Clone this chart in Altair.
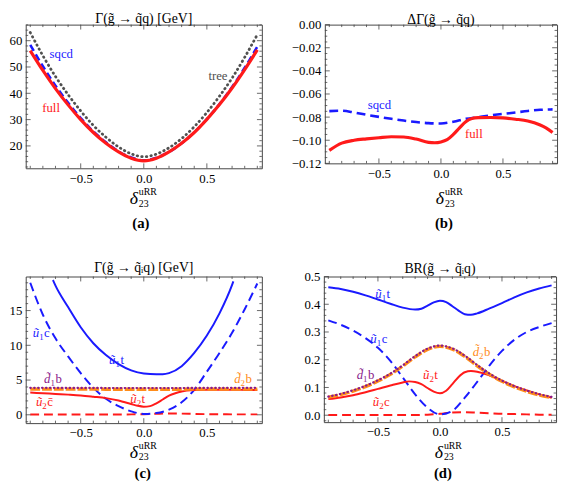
import altair as alt
import pandas as pd

FONT = "Liberation Serif, DejaVu Serif, serif"
BLUE = "#1a1aff"
RED = "#ff1a1a"
GRAY = "#505050"
PURPLE = "#8a1a8a"
ORANGE = "#ff8c1a"
FRAME = "#444444"

XDOM = [-0.936, 0.936]
X = [-0.9, -0.8, -0.7, -0.6, -0.5, -0.4, -0.3, -0.2, -0.1, 0.0,
     0.1, 0.2, 0.3, 0.4, 0.5, 0.6, 0.7, 0.8, 0.9]

# tick positions (major ones carry labels)
X_MAJOR = [-0.5, 0.0, 0.5]
X_MINOR = [-0.9, -0.8, -0.7, -0.6, -0.4, -0.3, -0.2, -0.1, 0.1, 0.2, 0.3, 0.4, 0.6, 0.7, 0.8, 0.9]
A_MAJOR = [20, 30, 40, 50, 60]
A_MINOR = [12, 14, 16, 18, 22, 24, 26, 28, 32, 34, 36, 38, 42, 44, 46, 48, 52, 54, 56, 58, 62, 64, 66]
B_MAJOR = [0.0, -0.02, -0.04, -0.06, -0.08, -0.10, -0.12]
B_MINOR = [-0.005, -0.01, -0.015, -0.025, -0.03, -0.035, -0.045, -0.05, -0.055, -0.065, -0.07,
           -0.075, -0.085, -0.09, -0.095, -0.105, -0.11, -0.115]
C_MAJOR = [0, 5, 10, 15]
C_MINOR = [-1, 1, 2, 3, 4, 6, 7, 8, 9, 11, 12, 13, 14, 16, 17, 18, 19]
D_MAJOR = [0.0, 0.1, 0.2, 0.3, 0.4, 0.5]
D_MINOR = [-0.02, 0.02, 0.04, 0.06, 0.08, 0.12, 0.14, 0.16, 0.18, 0.22, 0.24, 0.26, 0.28,
           0.32, 0.34, 0.36, 0.38, 0.42, 0.44, 0.46, 0.48]

# ---------- (a) Gamma(gluino -> squark q) [GeV]
a_full = [56.2, 48.7, 41.8, 35.6, 30.0, 25.1, 21.0, 17.7, 15.3, 14.3,
          15.3, 17.7, 21.0, 25.1, 30.1, 35.7, 42.0, 49.0, 56.5]
a_sqcd = [58.4, 50.3, 42.9, 36.4, 30.6, 25.5, 21.4, 17.9, 15.6, 14.5,
          15.5, 17.7, 21.0, 25.2, 30.2, 35.9, 42.4, 49.7, 57.7]
a_tree = [63.1, 54.3, 46.4, 39.5, 33.3, 27.8, 23.3, 19.6, 17.0, 15.9,
          16.9, 19.3, 22.8, 27.3, 32.7, 38.9, 45.8, 53.7, 62.3]

# ---------- (b) Delta Gamma
b_sqcd = [-0.0748, -0.0745, -0.0760, -0.0780, -0.0798, -0.0815, -0.0830, -0.0843, -0.0852, -0.0855,
          -0.0840, -0.0815, -0.0800, -0.0785, -0.0772, -0.0760, -0.0747, -0.0737, -0.0733]
b_full_x = [-0.9, -0.8, -0.7, -0.6, -0.5, -0.4, -0.3, -0.2, -0.1, -0.05, 0.0, 0.05,
            0.1, 0.15, 0.2, 0.25, 0.3, 0.4, 0.5, 0.6, 0.7, 0.8, 0.85, 0.9]
b_full = [-0.1088, -0.1025, -0.1000, -0.0988, -0.0978, -0.0970, -0.0972, -0.0990, -0.1018, -0.1022,
          -0.1015, -0.0995, -0.0950, -0.0893, -0.0840, -0.0812, -0.0805, -0.0803, -0.0807, -0.0818,
          -0.0833, -0.0868, -0.0895, -0.0933]

# ---------- (c) partial widths [GeV]
c_u1c = [19.0, 14.4, 11.0, 8.4, 6.0, 3.9, 2.3, 1.25, 0.5, 0.12,
         0.25, 0.75, 1.8, 3.6, 6.2, 8.9, 11.8, 15.2, 18.9]
c_u1t_x = [-0.72, -0.7, -0.6, -0.5, -0.4, -0.3, -0.2, -0.1, 0.0, 0.1, 0.15, 0.2,
           0.3, 0.4, 0.5, 0.6, 0.7, 0.71]
c_u1t = [19.4, 18.6, 15.5, 12.6, 10.3, 8.6, 7.3, 6.4, 5.95, 5.85, 5.85, 6.0,
         7.0, 8.9, 11.4, 14.6, 18.7, 19.2]
c_d1b = [3.88, 3.88, 3.88, 3.87, 3.87, 3.87, 3.86, 3.86, 3.86, 3.86,
         3.86, 3.86, 3.86, 3.87, 3.87, 3.87, 3.88, 3.88, 3.88]
c_d2b = [3.70, 3.70, 3.70, 3.69, 3.69, 3.69, 3.68, 3.68, 3.68, 3.68,
         3.68, 3.68, 3.68, 3.69, 3.69, 3.69, 3.70, 3.70, 3.70]
c_u2t_x = [-0.9, -0.8, -0.7, -0.6, -0.5, -0.4, -0.3, -0.2, -0.15, -0.1, -0.05, 0.0,
           0.05, 0.1, 0.15, 0.2, 0.25, 0.3, 0.4, 0.5, 0.6, 0.7, 0.8, 0.9]
c_u2t = [3.2, 3.1, 3.0, 2.9, 2.78, 2.6, 2.4, 2.05, 1.8, 1.55, 1.3, 1.17,
         1.25, 1.65, 2.2, 2.75, 3.1, 3.35, 3.55, 3.6, 3.6, 3.6, 3.58, 3.55]
c_u2c = [0.05, 0.05, 0.05, 0.05, 0.05, 0.05, 0.05, 0.05, 0.06, 0.08,
         0.15, 0.19, 0.17, 0.13, 0.09, 0.07, 0.06, 0.06, 0.06]

# ---------- (d) branching ratios
d_u1t_x = [-0.9, -0.8, -0.7, -0.6, -0.5, -0.4, -0.3, -0.2, -0.15, -0.1, -0.05, 0.0,
           0.05, 0.1, 0.15, 0.2, 0.25, 0.3, 0.4, 0.5, 0.6, 0.7, 0.8, 0.9]
d_u1t = [0.461, 0.455, 0.445, 0.432, 0.417, 0.402, 0.388, 0.381, 0.384, 0.395, 0.407, 0.413,
         0.408, 0.393, 0.377, 0.364, 0.362, 0.367, 0.385, 0.404, 0.425, 0.443, 0.457, 0.468]
d_u1c = [0.342, 0.326, 0.305, 0.278, 0.243, 0.196, 0.136, 0.075, 0.027, 0.003,
         0.016, 0.063, 0.120, 0.180, 0.232, 0.272, 0.300, 0.318, 0.332]
d_d1b = [0.067, 0.077, 0.090, 0.106, 0.126, 0.150, 0.180, 0.213, 0.240, 0.251,
         0.241, 0.215, 0.181, 0.150, 0.125, 0.105, 0.089, 0.076, 0.066]
d_d2b = [0.065, 0.074, 0.087, 0.103, 0.123, 0.147, 0.177, 0.210, 0.237, 0.248,
         0.238, 0.212, 0.178, 0.147, 0.122, 0.102, 0.086, 0.073, 0.064]
d_u2t_x = [-0.9, -0.8, -0.7, -0.6, -0.5, -0.4, -0.3, -0.25, -0.2, -0.15, -0.1, -0.05, 0.0,
           0.05, 0.1, 0.15, 0.2, 0.25, 0.3, 0.4, 0.5, 0.6, 0.7, 0.8, 0.9]
d_u2t = [0.058, 0.064, 0.072, 0.083, 0.095, 0.107, 0.118, 0.122, 0.120, 0.112, 0.098, 0.085, 0.079,
         0.088, 0.112, 0.138, 0.155, 0.159, 0.157, 0.143, 0.124, 0.105, 0.089, 0.075, 0.063]
d_u2c = [0.001, 0.001, 0.001, 0.001, 0.001, 0.001, 0.001, 0.001, 0.002, 0.005,
         0.010, 0.011, 0.009, 0.007, 0.005, 0.004, 0.003, 0.002, 0.002]

# plain curve labels: (x, y, text, colour)
a_labels = [(-0.654, 55.0, "sqcd", BLUE), (-0.735, 34.3, "full", RED), (0.588, 46.7, "tree", GRAY)]
b_labels = [(-0.496, -0.0697, "sqcd", BLUE), (0.265, -0.0947, "full", RED)]
# squark labels: (x, y, head, index, tail, colour)
c_labels = [(-0.81, 11.7, "ũ", "1", "c", BLUE), (-0.205, 7.9, "ũ", "1", "t", BLUE),
            (-0.72, 5.1, "d\u0303", "1", "b", PURPLE), (0.787, 5.1, "d\u0303", "2", "b", ORANGE),
            (-0.785, 1.86, "ũ", "2", "c\u0304", RED), (-0.037, 2.3, "ũ", "2", "t", RED)]
d_labels = [(-0.45, 0.437, "ũ", "1", "t", BLUE), (-0.49, 0.276, "ũ", "1", "c", BLUE),
            (0.335, 0.228, "d\u0303", "2", "b", ORANGE), (-0.60, 0.144, "d\u0303", "1", "b", PURPLE),
            (-0.065, 0.144, "ũ", "2", "t", RED), (-0.47, 0.046, "ũ", "2", "c", RED)]


def make_panel(lines, plain, squark, ydom, ymaj, ymin, yfmt, extent, W, H, title, toff,
               tag, dx, tagdx, voff):
    xe = alt.X("x:Q", scale=alt.Scale(domain=XDOM, nice=False, zero=False),
               axis=alt.Axis(values=X_MAJOR, format=".1f", title=None, grid=False,
                             domain=False, ticks=False, tickSize=0,
                             labelFont=FONT, labelFontSize=13, labelColor="black", labelPadding=4))
    ye = alt.Y("y:Q", scale=alt.Scale(domain=ydom, nice=False, zero=False),
               axis=alt.Axis(values=ymaj, format=yfmt, title=None, grid=False, domain=False,
                             ticks=False, tickSize=0, labelFont=FONT,
                             labelFontSize=13, labelColor="black", labelPadding=4,
                             minExtent=extent, maxExtent=extent))
    layers = []
    for xs, ys, kw in lines:
        df = pd.DataFrame({"x": xs, "y": ys})
        layers.append(alt.Chart(df).mark_line(interpolate="monotone", **kw).encode(x=xe, y=ye))

    # frame ticks (inside, on all four sides)
    for vals, ln in ((X_MAJOR, 5), (X_MINOR, 2.5)):
        tdf = pd.DataFrame({"x": vals})
        layers.append(alt.Chart(tdf).mark_rule(color=FRAME, strokeWidth=0.8).encode(
            x=xe, y=alt.value(H - ln), y2=alt.value(H)))
        layers.append(alt.Chart(tdf).mark_rule(color=FRAME, strokeWidth=0.8).encode(
            x=xe, y=alt.value(0), y2=alt.value(ln)))
    for vals, ln in ((ymaj, 5), (ymin, 2.5)):
        tdf = pd.DataFrame({"y": vals})
        layers.append(alt.Chart(tdf).mark_rule(color=FRAME, strokeWidth=0.8).encode(
            y=ye, x=alt.value(0), x2=alt.value(ln)))
        layers.append(alt.Chart(tdf).mark_rule(color=FRAME, strokeWidth=0.8).encode(
            y=ye, x=alt.value(W - ln), x2=alt.value(W)))

    if plain:
        ldf = pd.DataFrame({"x": [l[0] for l in plain], "y": [l[1] for l in plain],
                            "t": [l[2] for l in plain], "c": [l[3] for l in plain]})
        layers.append(alt.Chart(ldf).mark_text(font=FONT, fontSize=13).encode(
            x=xe, y=ye, text="t:N", color=alt.Color("c:N", scale=None)))
    if squark:
        sdf = pd.DataFrame({"x": [l[0] for l in squark], "y": [l[1] for l in squark],
                            "h": [l[2] for l in squark], "i": [l[3] for l in squark],
                            "t": [l[4] for l in squark], "c": [l[5] for l in squark]})
        base = alt.Chart(sdf)
        layers.append(base.mark_text(font=FONT, fontSize=13, fontStyle="italic", align="left",
                                     dx=-9).encode(x=xe, y=ye, text="h:N",
                                                   color=alt.Color("c:N", scale=None)))
        layers.append(base.mark_text(font=FONT, fontSize=9, align="left", dx=-2.5, dy=4).encode(
            x=xe, y=ye, text="i:N", color=alt.Color("c:N", scale=None)))
        layers.append(base.mark_text(font=FONT, fontSize=13, align="left", dx=2.5).encode(
            x=xe, y=ye, text="t:N", color=alt.Color("c:N", scale=None)))

    one = pd.DataFrame({"k": [0]})
    sup, dl, sub, tg = voff
    cx = W / 2 + dx
    layers.append(alt.Chart(one).mark_text(text="δ", font=FONT, fontSize=18, fontStyle="italic",
                                            baseline="middle", color="black")
                  .encode(x=alt.value(cx), y=alt.value(H + dl)))
    layers.append(alt.Chart(one).mark_text(text="uRR", font=FONT, fontSize=10, align="left",
                                            baseline="middle", color="black")
                  .encode(x=alt.value(cx + 5), y=alt.value(H + sup)))
    layers.append(alt.Chart(one).mark_text(text="23", font=FONT, fontSize=10, align="left",
                                            baseline="middle", color="black")
                  .encode(x=alt.value(cx + 5), y=alt.value(H + sub)))
    layers.append(alt.Chart(one).mark_text(text=tag, font=FONT, fontSize=15, fontWeight="bold",
                                            baseline="middle", color="black")
                  .encode(x=alt.value(W / 2 + tagdx), y=alt.value(H + tg)))
    return alt.layer(*layers).properties(
        width=W, height=H,
        title=alt.TitleParams(text=title, font=FONT, fontSize=14, fontWeight="normal",
                              offset=toff, frame="group", anchor="middle", color="black"))


pa = make_panel(
    [(X, a_tree, dict(color=GRAY, strokeWidth=2.8, strokeDash=[0.5, 4.2], strokeCap="round")),
     (X, a_sqcd, dict(color=BLUE, strokeWidth=2.6, strokeDash=[7, 4])),
     (X, a_full, dict(color=RED, strokeWidth=3.2))],
    a_labels, None, [11.5, 66.1], A_MAJOR, A_MINOR, "d", 16, 240, 146,
    "Γ(g\u0303 → q\u0303q) [GeV]", -2, "(a)", -10, -3, (24, 31, 36, 56))

pb = make_panel(
    [(X, b_sqcd, dict(color=BLUE, strokeWidth=2.6, strokeDash=[9, 5])),
     (b_full_x, b_full, dict(color=RED, strokeWidth=3.2))],
    b_labels, None, [-0.12, 0.0], B_MAJOR, B_MINOR, ".2f", 33, 236, 141,
    "ΔΓ(g\u0303 → q\u0303q)", -8.5, "(b)", -1, 3, (29, 36, 41, 61))

pc = make_panel(
    [(X, c_u2c, dict(color=RED, strokeWidth=2, strokeDash=[9, 5])),
     (X, c_u1c, dict(color=BLUE, strokeWidth=2, strokeDash=[9, 5])),
     (c_u1t_x, c_u1t, dict(color=BLUE, strokeWidth=2)),
     (c_u2t_x, c_u2t, dict(color=RED, strokeWidth=2)),
     (X, c_d2b, dict(color=ORANGE, strokeWidth=3.4, strokeDash=[10, 2])),
     (X, c_d1b, dict(color=PURPLE, strokeWidth=2.2, strokeDash=[0.5, 3.5], strokeCap="round"))],
    None, c_labels, [-1.2, 19.9], C_MAJOR, C_MINOR, "d", 16, 240, 149,
    "Γ(g\u0303 → q\u0303ᵢq) [GeV]", 1, "(c)", -10, -1, (23, 30, 34, 51))

pd_ = make_panel(
    [(X, d_u2c, dict(color=RED, strokeWidth=2, strokeDash=[9, 5])),
     (X, d_u1c, dict(color=BLUE, strokeWidth=2, strokeDash=[9, 5])),
     (d_u1t_x, d_u1t, dict(color=BLUE, strokeWidth=2)),
     (d_u2t_x, d_u2t, dict(color=RED, strokeWidth=2)),
     (X, d_d2b, dict(color=ORANGE, strokeWidth=3.4, strokeDash=[10, 2])),
     (X, d_d1b, dict(color=PURPLE, strokeWidth=2.2, strokeDash=[0.5, 3.5], strokeCap="round"))],
    None, d_labels, [-0.025, 0.5], D_MAJOR, D_MINOR, ".1f", 20, 236, 148,
    "BR(g\u0303 → q\u0303ᵢq)", -5.5, "(d)", -1, 3, (24, 31, 35, 52))

top = alt.hconcat(pa, pb, spacing=26)
bottom = alt.hconcat(pc, pd_, spacing=39)
chart = alt.vconcat(top, bottom, spacing=29).configure_view(
    stroke=FRAME, strokeWidth=1).properties(padding=0, background="white")

chart.save("out.html", embed_options={"renderer": "svg", "actions": False})
